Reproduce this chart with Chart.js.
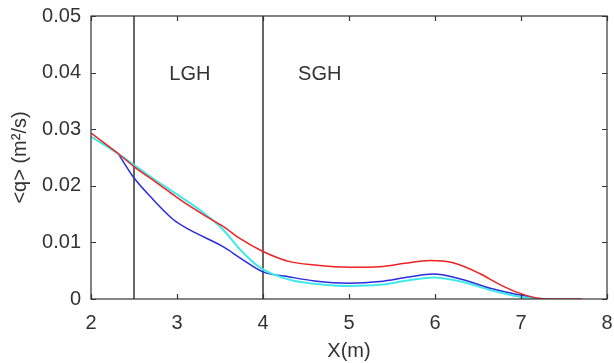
<!DOCTYPE html>
<html><head><meta charset="utf-8">
<script src="https://cdn.jsdelivr.net/npm/chart.js@4/dist/chart.umd.min.js"></script>
<style>html,body{margin:0;padding:0;background:#fff}#wrap{width:614px;height:363px}</style>
</head><body><div id="wrap"><canvas id="c" width="614" height="363"></canvas></div>
<script>
// ---- data ----
const redX  = [2, 2.34, 2.5, 2.75, 2.96, 3.15, 3.345, 3.54, 3.73, 4.0, 4.31, 4.6, 5.0, 5.36, 5.65, 5.94, 6.21, 6.52, 6.76, 6.99, 7.22, 7.45, 7.71];
const redY  = [0.0293, 0.0254, 0.0234, 0.0207, 0.0184, 0.0164, 0.01455, 0.0128, 0.0107, 0.0084, 0.0066, 0.0060, 0.0056, 0.0057, 0.0063, 0.0068, 0.0064, 0.0045, 0.0025, 0.0010, 0.0001, 0.0000, 0.0000];
const cyanX = [2, 2.34, 2.5, 2.76, 3.0, 3.345, 3.54, 3.73, 3.98, 4.31, 4.6, 5.0, 5.36, 5.7, 5.98, 6.3, 6.64, 6.99, 7.25];
const cyanY = [0.0287, 0.0254, 0.0237, 0.0209, 0.0185, 0.0148, 0.0122, 0.0088, 0.0054, 0.0034, 0.0027, 0.0023, 0.0025, 0.0033, 0.0038, 0.0031, 0.0016, 0.0004, 0.0000];
const blueX = [2.32, 2.49, 2.69, 2.96, 3.15, 3.54, 3.75, 4.0, 4.31, 4.6, 5.0, 5.36, 5.7, 5.98, 6.33, 6.64, 6.99, 7.18];
const blueY = [0.0256, 0.0216, 0.0181, 0.0140, 0.0122, 0.0092, 0.0071, 0.0048, 0.0039, 0.0032, 0.0028, 0.0031, 0.0039, 0.0044, 0.0034, 0.0019, 0.0007, 0.0001];
const boundaryX = [2.5, 4];
const regionLabels = ['LGH', 'SGH'];
const regionLabelX = [3.15, 4.66];
const regionLabelY = 0.0396;
const xTickLabels = ['2', '3', '4', '5', '6', '7', '8'];
const yTickLabels = ['0', '0.01', '0.02', '0.03', '0.04', '0.05'];

const pts = (xs, ys) => xs.map((x, i) => ({x: x, y: ys[i]}));
const FONT = "'Liberation Sans', Arial, sans-serif";
const TXT = '#333333';
const FS = 20;

// Chart.js paints dataset 0 last (on top), so the topmost curve comes first.
const datasets = [];
datasets.push({data: pts(redX, redY), borderColor: '#ee2222', borderWidth: 1.5, pointRadius: 0, cubicInterpolationMode: 'monotone'});
datasets.push({data: pts(cyanX, cyanY), borderColor: '#40eaea', borderWidth: 2, pointRadius: 0, cubicInterpolationMode: 'monotone'});
datasets.push({data: pts(blueX, blueY), borderColor: '#2a2ae0', borderWidth: 1.5, pointRadius: 0, cubicInterpolationMode: 'monotone'});
boundaryX.forEach(b => datasets.push({
  data: [{x: b, y: 0}, {x: b, y: 0.05}], borderColor: '#333333', borderWidth: 1.5,
  pointRadius: 0, tension: 0
}));

const boxPlugin = {
  id: 'box',
  afterDatasetsDraw(chart) {
    const {ctx, chartArea: a, scales: {x, y}} = chart;
    ctx.save();
    ctx.strokeStyle = '#333333';
    ctx.lineWidth = 1.2;
    ctx.strokeRect(a.left, a.top, a.right - a.left, a.bottom - a.top);
    const L = 5;
    ctx.beginPath();
    x.ticks.forEach(t => {
      const px = Math.round(x.getPixelForValue(t.value)) + 0.5;
      ctx.moveTo(px, a.bottom); ctx.lineTo(px, a.bottom - L);
      ctx.moveTo(px, a.top); ctx.lineTo(px, a.top + L);
    });
    y.ticks.forEach(t => {
      const py = Math.round(y.getPixelForValue(t.value)) + 0.5;
      ctx.moveTo(a.left, py); ctx.lineTo(a.left + L, py);
      ctx.moveTo(a.right, py); ctx.lineTo(a.right - L, py);
    });
    ctx.stroke();
    ctx.fillStyle = TXT;
    ctx.font = FS + 'px ' + FONT;
    ctx.textAlign = 'center';
    ctx.textBaseline = 'middle';
    regionLabels.forEach((s, i) => {
      ctx.fillText(s, x.getPixelForValue(regionLabelX[i]), y.getPixelForValue(regionLabelY));
    });
    ctx.restore();
  }
};

new Chart(document.getElementById('c'), {
  type: 'line',
  data: {datasets: datasets},
  options: {
    responsive: false, animation: false,
    layout: {padding: {top: 16, right: 7, left: 0, bottom: 0}},
    plugins: {legend: {display: false}, tooltip: {enabled: false}},
    scales: {
      x: {
        type: 'linear', min: 2, max: 8,
        ticks: {stepSize: 1, color: TXT, font: {family: FONT, size: FS}, padding: 12,
          callback: (v, i) => xTickLabels[i]},
        grid: {display: false, drawTicks: false},
        border: {display: false},
        title: {display: true, text: 'X(m)', color: TXT, font: {family: FONT, size: FS}, padding: {top: 2, bottom: 0}},
        afterFit: s => { s.height = 64; s.paddingLeft = 0; s.paddingRight = 0; s.paddingTop = 0; s.paddingBottom = 0; }
      },
      y: {
        type: 'linear', min: 0, max: 0.05,
        ticks: {stepSize: 0.01, color: TXT, font: {family: FONT, size: FS}, padding: 10,
          callback: (v, i) => yTickLabels[i]},
        grid: {display: false, drawTicks: false},
        border: {display: false},
        title: {display: true, text: '<q> (m\u00B2/s)', color: TXT, font: {family: FONT, size: FS}, padding: {top: 8, bottom: 0}},
        afterFit: s => { s.width = 91; s.paddingLeft = 0; s.paddingRight = 0; s.paddingTop = 0; s.paddingBottom = 0; }
      }
    }
  },
  plugins: [boxPlugin]
});
</script>
</body></html>
